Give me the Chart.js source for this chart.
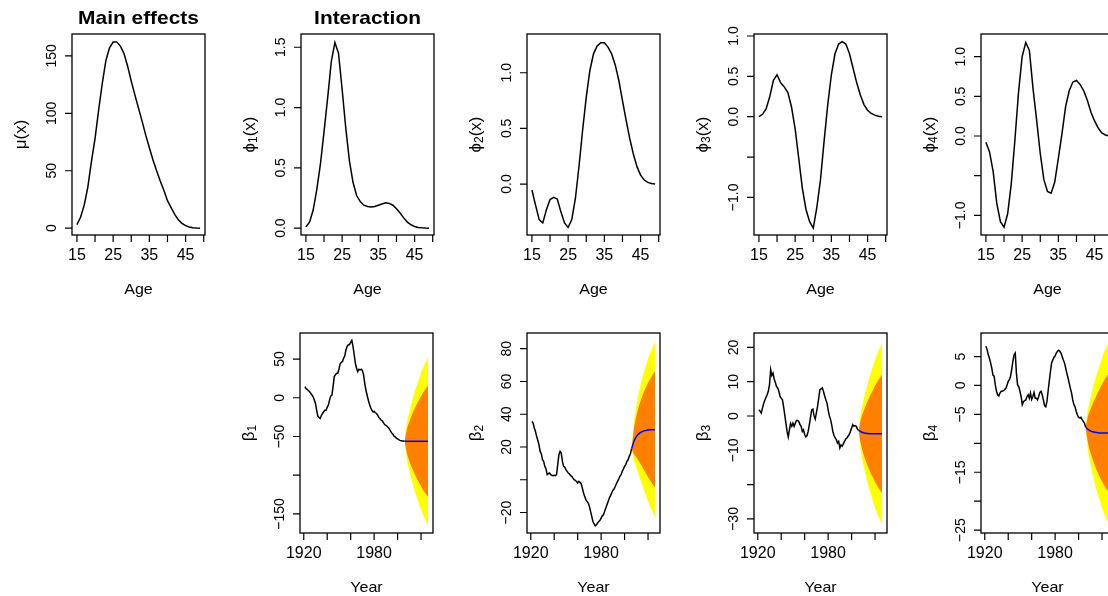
<!DOCTYPE html>
<html lang="en">
<head>
<meta charset="UTF-8">
<title>Main effects and interaction</title>
<script src="https://cdn.jsdelivr.net/npm/chart.js"></script>
<style>
  html, body { margin: 0; padding: 0; background: #fff; overflow: hidden; width: 1108px; height: 596px; }
  canvas { position: absolute; }
</style>
</head>
<body>
<script>
// ---- age curves (top row) ----
const ages = [15, 16, 17, 18, 19, 20, 21, 22, 23, 24, 25, 26, 27, 28, 29, 30, 31, 32, 33, 34, 35,
              36, 37, 38, 39, 40, 41, 42, 43, 44, 45, 46, 47, 48, 49];
const muValues = [3.2, 9.5, 20, 35.6, 58, 78, 103, 126, 146, 157, 162, 162, 158.5, 152, 141, 128, 116,
                  104.5, 93, 81, 70, 59.3, 50, 41, 33, 24, 18, 12, 7.3, 4.2, 2.2, 1.0, 0.4, 0.1, 0];
const phi1Values = [0.01, 0.05, 0.15, 0.32, 0.53, 0.8, 1.08, 1.38, 1.54, 1.45, 1.15, 0.83, 0.56, 0.38,
                    0.27, 0.22, 0.19, 0.18, 0.175, 0.18, 0.19, 0.2, 0.21, 0.205, 0.19, 0.16, 0.125,
                    0.085, 0.05, 0.028, 0.014, 0.006, 0.003, 0.001, 0];
const phi2Values = [-0.054, -0.19, -0.32, -0.35, -0.23, -0.14, -0.12, -0.135, -0.25, -0.35, -0.39,
                    -0.32, -0.13, 0.16, 0.485, 0.78, 1.02, 1.17, 1.24, 1.27, 1.27, 1.23, 1.17, 1.07,
                    0.93, 0.75, 0.575, 0.41, 0.27, 0.156, 0.08, 0.036, 0.015, 0.004, 0];
const phi3Values = [0, 0.03, 0.10, 0.25, 0.45, 0.52, 0.42, 0.37, 0.30, 0.12, -0.15, -0.52, -0.89,
                    -1.15, -1.30, -1.38, -1.12, -0.78, -0.30, 0.15, 0.52, 0.78, 0.90, 0.93, 0.90,
                    0.78, 0.60, 0.42, 0.27, 0.15, 0.08, 0.04, 0.02, 0.005, 0];
const phi4Values = [-0.08, -0.2, -0.45, -0.85, -1.08, -1.15, -0.98, -0.6, -0.05, 0.55, 1.0, 1.18,
                    1.08, 0.6, 0.2, -0.22, -0.55, -0.70, -0.72, -0.58, -0.28, 0.03, 0.37, 0.57,
                    0.68, 0.70, 0.65, 0.57, 0.45, 0.30, 0.19, 0.10, 0.04, 0.013, 0];

// ---- time indices (bottom row) ----
const years = [1921, 1922, 1923, 1924, 1925, 1926, 1927, 1928, 1929, 1930,
               1931, 1932, 1933, 1934, 1935, 1936, 1937, 1938, 1939, 1940,
               1941, 1942, 1943, 1944, 1945, 1946, 1947, 1948, 1949, 1950,
               1951, 1952, 1953, 1954, 1955, 1956, 1957, 1958, 1959, 1960,
               1961, 1962, 1963, 1964, 1965, 1966, 1967, 1968, 1969, 1970,
               1971, 1972, 1973, 1974, 1975, 1976, 1977, 1978, 1979, 1980,
               1981, 1982, 1983, 1984, 1985, 1986, 1987, 1988, 1989, 1990,
               1991, 1992, 1993, 1994, 1995, 1996, 1997, 1998, 1999, 2000,
               2001, 2002, 2003, 2004, 2005, 2006];
const beta1Values = [14.3, 11.7, 10.9, 9.1, 7.8, 5.7, 3.5, 1.3, -3.0, -7.3,
                     -16.0, -23.8, -25.5, -26.8, -22.9, -20.3, -18.1, -16.0, -16.0, -12.5,
                     -9.5, -3.0, 2.2, 3.5, 14.3, 27.3, 29.5, 31.6, 31.6, 36.8,
                     43.8, 45.5, 46.8, 51.1, 54.2, 62.0, 66.3, 68.5, 68.5, 71.5,
                     74.1, 66.3, 55.5, 44.6, 38.1, 33.8, 36.8, 35.9, 36.8, 35.1,
                     29.5, 18.7, 10.0, 3.5, -3.0, -8.2, -12.5, -16.0, -18.1, -17.7,
                     -19.4, -20.3, -22.5, -25.5, -26.8, -29.0, -29.8, -32.4, -34.6, -35.5,
                     -36.8, -38.5, -40.2, -43.2, -45.4, -47.1, -49.7, -50.6, -52.3, -53.2,
                     -54.1, -55.0, -55.4, -55.8, -55.8, -56.2];
const beta2Values = [35.7, 34.6, 31.6, 29.5, 26.5, 24.1, 21.4, 17.3, 15.9, 12.2,
                     11.2, 8.2, 6.6, 3.1, 3.7, 4.1, 3.1, 2.7, 2.5, 2.7,
                     2.5, 3.1, 9.2, 15.3, 17.3, 16.3, 11.2, 8.2, 7.8, 6.2,
                     5.1, 4.1, 3.5, 2.5, 2.1, 1.0, 0.0, -0.4, -1.0, -2.0,
                     -1.0, -1.6, -2.4, -5.1, -8.1, -10.2, -12.2, -13.2, -14.2, -16.3,
                     -19.3, -22.4, -25.5, -27.0, -28.1, -27.5, -26.4, -25.5, -24.8, -23.4,
                     -22.0, -21.4, -19.3, -17.3, -15.2, -13.2, -11.2, -9.7, -8.1, -6.5,
                     -5.7, -4.1, -2.4, -1.0, 0.4, 2.1, 3.1, 5.1, 6.6, 8.2,
                     9.2, 11.2, 12.2, 14.3, 15.9, 19.0];
const beta3Values = [1.8, 1.4, 0.9, 2.3, 3.6, 4.6, 5.4, 6.2, 7.2, 9.1,
                     13.5, 11.8, 12.5, 10.8, 9.8, 8.6, 8.2, 7.2, 5.7, 5.2,
                     4.8, 2.8, 0.4, -2.1, -4.5, -6.1, -4.0, -2.2, -3.0, -2.1,
                     -3.0, -2.1, -1.3, -1.3, -1.6, -2.5, -3.0, -4.5, -4.0, -5.4,
                     -6.1, -5.7, -4.5, -2.5, -0.3, 1.8, 2.0, 0.1, -0.9, 0.9,
                     2.8, 5.2, 7.7, 7.9, 8.2, 7.2, 5.9, 4.8, 3.8, 1.8,
                     0.1, -0.9, -2.5, -4.5, -5.7, -6.4, -6.9, -7.9, -7.4, -9.3,
                     -8.4, -8.8, -8.1, -7.4, -6.7, -6.4, -5.9, -5.4, -4.5, -3.5,
                     -2.5, -3.0, -2.8, -3.0, -3.8, -4.2];
const beta4Values = [6.8, 6.2, 5.3, 4.7, 3.9, 3.0, 1.8, 1.6, 0.1, -1.0,
                     -1.6, -1.8, -1.3, -1.0, -1.0, -0.9, -0.7, -0.5, 0.1, 0.7,
                     1.0, 1.6, 2.8, 4.2, 5.3, 5.6, 2.1, 0.1, -0.2, -1.0,
                     -1.9, -3.3, -2.8, -2.6, -2.5, -1.9, -1.6, -2.2, -1.3, -2.4,
                     -1.9, -1.2, -2.2, -2.2, -2.5, -1.9, -1.2, -1.0, -1.6, -2.5,
                     -3.5, -3.7, -2.8, -1.0, 0.7, 2.4, 3.9, 4.4, 4.9, 5.1,
                     5.6, 5.9, 6.1, 5.9, 5.6, 5.0, 4.4, 3.9, 3.0, 2.1,
                     1.3, 0.4, -0.5, -1.3, -2.5, -3.3, -3.7, -4.5, -5.1, -5.5,
                     -5.6, -5.5, -5.9, -6.2, -6.5, -7.2];

// ---- forecasts: mean, 80% (orange) and 95% (yellow) limits ----
const forecastYears = [2006, 2008, 2010, 2012, 2014, 2016, 2018, 2020, 2022, 2024, 2026];
const beta1Mean = [-56.2, -56.2, -56.2, -56.2, -56.2, -56.2, -56.2, -56.2, -56.2, -56.2, -56.2];
const beta1Hi95 = [-56.2, -32.2, -18.1, -6.1, 4.8, 14.7, 23.4, 32.1, 39.7, 46.3, 52.8];
const beta1Lo95 = [-56.2, -80.2, -94.4, -106.3, -117.2, -127.1, -135.8, -144.5, -152.1, -158.7, -165.2];
const beta1Hi80 = [-56.2, -40.4, -31.0, -23.1, -15.9, -9.4, -3.6, 2.1, 7.2, 11.5, 15.8];
const beta1Lo80 = [-56.2, -72.0, -81.4, -89.3, -96.5, -103.0, -108.8, -114.5, -119.6, -123.9, -128.2];
const beta2Mean = [19, 23.5, 26.3, 28.0, 29.0, 29.7, 30.1, 30.4, 30.5, 30.6, 30.6];
const beta2Hi95 = [19, 35.3, 45.1, 52.7, 59.1, 64.6, 69.3, 73.9, 77.8, 81.1, 84.3];
const beta2Lo95 = [19, 11.7, 7.5, 3.3, -1.1, -5.2, -9.1, -13.1, -16.8, -19.9, -23.1];
const beta2Hi80 = [19, 31.3, 38.8, 44.4, 48.9, 52.8, 56.1, 59.2, 61.8, 64.1, 66.2];
const beta2Lo80 = [19, 15.7, 13.8, 11.6, 9.1, 6.6, 4.1, 1.6, -0.8, -2.9, -5.0];
const beta3Mean = [-4.2, -4.6, -4.85, -5.0, -5.1, -5.15, -5.2, -5.2, -5.2, -5.2, -5.2];
const beta3Hi95 = [-4.2, 1.3, 4.5, 7.2, 9.8, 12.1, 14.2, 16.3, 18.2, 19.8, 21.4];
const beta3Lo95 = [-4.2, -10.5, -14.2, -17.2, -20.0, -22.4, -24.6, -26.7, -28.6, -30.2, -31.8];
const beta3Hi80 = [-4.2, -0.8, 1.2, 3.0, 4.6, 6.1, 7.4, 8.8, 10.0, 11.1, 12.1];
const beta3Lo80 = [-4.2, -8.4, -10.9, -13.0, -14.8, -16.4, -17.8, -19.2, -20.4, -21.5, -22.5];
const beta4Mean = [-7.2, -7.6, -7.85, -8.0, -8.1, -8.15, -8.2, -8.2, -8.2, -8.2, -8.2];
const beta4Hi95 = [-7.2, -4.1, -2.25, -0.6, 0.9, 2.25, 3.5, 4.8, 5.9, 6.8, 7.8];
const beta4Lo95 = [-7.2, -11.1, -13.45, -15.4, -17.1, -18.55, -19.9, -21.2, -22.3, -23.2, -24.2];
const beta4Hi80 = [-7.2, -5.3, -4.2, -3.2, -2.3, -1.4, -0.6, 0.2, 0.95, 1.6, 2.2];
const beta4Lo80 = [-7.2, -9.9, -11.5, -12.8, -13.9, -14.9, -15.8, -16.6, -17.35, -18.0, -18.6];

// ---- ticks ----
const ageTicks = [15, 20, 25, 30, 35, 40, 45, 50];
const ageTickLabels = ['15', '', '25', '', '35', '', '45', ''];
const yearTicks = [1920, 1940, 1960, 1980, 2000, 2020];
const yearTickLabels = ['1920', '', '', '1980', '', ''];

const M = '\u2212';
const FONT = '"Liberation Sans", Arial, Helvetica, sans-serif';
const YELLOW = '#ffff00', ORANGE = '#ff8000', BLUE = '#0000ff';

function pts(xs, ys) { return xs.map((x, i) => ({ x: x, y: ys[i] })); }

function curve(xs, ys, color, order) {
    return { data: pts(xs, ys), borderColor: color, borderWidth: 1.5, pointRadius: 0,
             fill: false, tension: 0, order: order };
}

function edge(xs, ys, fillTo, color, order) {
    return { data: pts(xs, ys), borderColor: 'rgba(0,0,0,0)', borderWidth: 1, pointRadius: 0,
             fill: fillTo === null ? false : fillTo, backgroundColor: color,
             cubicInterpolationMode: 'monotone', order: order };
}

function forecastSets(hist, mean, hi95, lo95, hi80, lo80) {
    return [
        edge(forecastYears, hi95, 1, YELLOW, 4),
        edge(forecastYears, lo95, null, YELLOW, 4),
        edge(forecastYears, hi80, 3, ORANGE, 3),
        edge(forecastYears, lo80, null, ORANGE, 3),
        curve(years, hist, '#000', 2),
        Object.assign(curve(forecastYears, mean, BLUE, 1), { cubicInterpolationMode: 'monotone' })
    ];
}

const panels = [
    { left: 72, top: 34, h: 201, title: 'Main effects', ylab: [['\u03bc(x)']], xlab: 'Age',
      xr: [13.64, 50.36], yr: [-5.9, 169], xt: ageTicks, xl: ageTickLabels,
      yt: [0, 50, 100, 150], yl: ['0', '50', '100', '150'],
      sets: [curve(ages, muValues, '#000', 1)] },
    { left: 301, top: 34, h: 201, title: 'Interaction', ylab: [['\u03d5'], ['1', 1], ['(x)']], xlab: 'Age',
      xr: [13.64, 50.36], yr: [-0.057, 1.61], xt: ageTicks, xl: ageTickLabels,
      yt: [0, 0.5, 1, 1.5], yl: ['0.0', '0.5', '1.0', '1.5'],
      sets: [curve(ages, phi1Values, '#000', 1)] },
    { left: 527, top: 34, h: 201, ylab: [['\u03d5'], ['2', 1], ['(x)']], xlab: 'Age',
      xr: [13.64, 50.36], yr: [-0.458, 1.348], xt: ageTicks, xl: ageTickLabels,
      yt: [0, 0.5, 1], yl: ['0.0', '0.5', '1.0'],
      sets: [curve(ages, phi2Values, '#000', 1)] },
    { left: 754, top: 34, h: 201, ylab: [['\u03d5'], ['3', 1], ['(x)']], xlab: 'Age',
      xr: [13.64, 50.36], yr: [-1.466, 1.025], xt: ageTicks, xl: ageTickLabels,
      yt: [-1, -0.5, 0, 0.5, 1], yl: [M + '1.0', '', '0.0', '0.5', '1.0'],
      sets: [curve(ages, phi3Values, '#000', 1)] },
    { left: 981, top: 34, h: 201, ylab: [['\u03d5'], ['4', 1], ['(x)']], xlab: 'Age',
      xr: [13.64, 50.36], yr: [-1.248, 1.286], xt: ageTicks, xl: ageTickLabels,
      yt: [-1, -0.5, 0, 0.5, 1], yl: [M + '1.0', '', '0.0', '0.5', '1.0'],
      sets: [curve(ages, phi4Values, '#000', 1)] },
    { left: 300, top: 333, h: 200, ylab: [['\u03b2'], ['1', 1]], xlab: 'Year',
      xr: [1916.8, 2030.2], yr: [-174.6, 83.6], xt: yearTicks, xl: yearTickLabels,
      yt: [-150, -100, -50, 0, 50], yl: [M + '150', '', M + '50', '0', '50'],
      sets: forecastSets(beta1Values, beta1Mean, beta1Hi95, beta1Lo95, beta1Hi80, beta1Lo80) },
    { left: 527, top: 333, h: 200, ylab: [['\u03b2'], ['2', 1]], xlab: 'Year',
      xr: [1916.8, 2030.2], yr: [-32.5, 89.6], xt: yearTicks, xl: yearTickLabels,
      yt: [-20, 0, 20, 40, 60, 80], yl: [M + '20', '', '20', '40', '60', '80'],
      sets: forecastSets(beta2Values, beta2Mean, beta2Hi95, beta2Lo95, beta2Hi80, beta2Lo80) },
    { left: 754, top: 333, h: 200, ylab: [['\u03b2'], ['3', 1]], xlab: 'Year',
      xr: [1916.8, 2030.2], yr: [-34.1, 24.2], xt: yearTicks, xl: yearTickLabels,
      yt: [-30, -20, -10, 0, 10, 20], yl: [M + '30', '', M + '10', '0', '10', '20'],
      sets: forecastSets(beta3Values, beta3Mean, beta3Hi95, beta3Lo95, beta3Hi80, beta3Lo80) },
    { left: 981, top: 333, h: 200, ylab: [['\u03b2'], ['4', 1]], xlab: 'Year',
      xr: [1916.8, 2030.2], yr: [-25.5, 9.07], xt: yearTicks, xl: yearTickLabels,
      yt: [-25, -20, -15, -10, -5, 0, 5], yl: [M + '25', '', M + '15', '', M + '5', '0', '5'],
      sets: forecastSets(beta4Values, beta4Mean, beta4Hi95, beta4Lo95, beta4Hi80, beta4Lo80) }
];

// horizontal text, slightly widened like the reference
function wideText(ctx, text, x, y, font, sx) {
    ctx.save();
    ctx.font = font;
    ctx.translate(x, y);
    ctx.scale(sx, 1);
    ctx.fillText(text, 0, 0);
    ctx.restore();
}

// R-style box, ticks and labels drawn from the chart's own scales
const rAxes = {
    id: 'rAxes',
    afterDraw(chart, args, o) {
        const { ctx, chartArea: a, scales } = chart;
        const x = scales.x, y = scales.y;
        ctx.save();
        ctx.fillStyle = '#000';
        ctx.strokeStyle = '#000';
        ctx.lineWidth = 1.3;
        ctx.strokeRect(a.left, a.top, a.right - a.left, a.bottom - a.top);

        ctx.lineWidth = 1.2;
        ctx.beginPath();
        o.xt.forEach(v => {
            const px = x.getPixelForValue(v);
            ctx.moveTo(px, a.bottom); ctx.lineTo(px, a.bottom + 7);
        });
        o.yt.forEach(v => {
            const py = y.getPixelForValue(v);
            ctx.moveTo(a.left, py); ctx.lineTo(a.left - 7, py);
        });
        ctx.stroke();

        ctx.textAlign = 'center';
        ctx.textBaseline = 'middle';
        o.xt.forEach((v, i) => {
            if (o.xl[i]) wideText(ctx, o.xl[i], x.getPixelForValue(v), a.bottom + 21, '16px ' + FONT, 1);
        });
        ctx.font = '14px ' + FONT;
        o.yt.forEach((v, i) => {
            if (!o.yl[i]) return;
            ctx.save();
            ctx.translate(a.left - 20, y.getPixelForValue(v));
            ctx.scale(1.1, 1);
            ctx.rotate(-Math.PI / 2);
            ctx.fillText(o.yl[i], 0, 0);
            ctx.restore();
        });

        wideText(ctx, o.xlab, (a.left + a.right) / 2, a.bottom + 55, '15px ' + FONT, 1.07);

        // y title with optional subscript pieces
        ctx.save();
        ctx.translate(a.left - 51, (a.top + a.bottom) / 2);
        ctx.rotate(-Math.PI / 2);
        ctx.textAlign = 'left';
        const parts = o.ylab.map(p => ({ t: p[0], sub: !!p[1] }));
        let total = 0;
        parts.forEach(p => {
            ctx.font = (p.sub ? '12px ' : '17px ') + FONT;
            p.w = ctx.measureText(p.t).width;
            total += p.w;
        });
        let cx = -total / 2;
        parts.forEach(p => {
            ctx.font = (p.sub ? '12px ' : '17px ') + FONT;
            ctx.fillText(p.t, cx, p.sub ? 4 : 0);
            cx += p.w;
        });
        ctx.restore();

        if (o.title) {
            wideText(ctx, o.title, (a.left + a.right) / 2, a.top - 15, 'bold 19px ' + FONT, 1.1);
        }
        ctx.restore();
    }
};

const PAD = { left: 75, top: 34, right: 20, bottom: 64 };
const BOX_W = 133;

panels.forEach(p => {
    const c = document.createElement('canvas');
    c.width = PAD.left + BOX_W + PAD.right;
    c.height = PAD.top + p.h + PAD.bottom;
    c.style.left = (p.left - PAD.left) + 'px';
    c.style.top = (p.top - PAD.top) + 'px';
    document.body.appendChild(c);

    new Chart(c.getContext('2d'), {
        type: 'line',
        data: { datasets: p.sets },
        options: {
            responsive: false,
            animation: false,
            events: [],
            layout: { padding: PAD },
            scales: {
                x: { type: 'linear', min: p.xr[0], max: p.xr[1], display: false },
                y: { type: 'linear', min: p.yr[0], max: p.yr[1], display: false }
            },
            plugins: {
                legend: { display: false },
                tooltip: { enabled: false },
                rAxes: { title: p.title, ylab: p.ylab, xlab: p.xlab,
                         xt: p.xt, xl: p.xl, yt: p.yt, yl: p.yl }
            }
        },
        plugins: [rAxes]
    });
});
</script>
</body>
</html>
